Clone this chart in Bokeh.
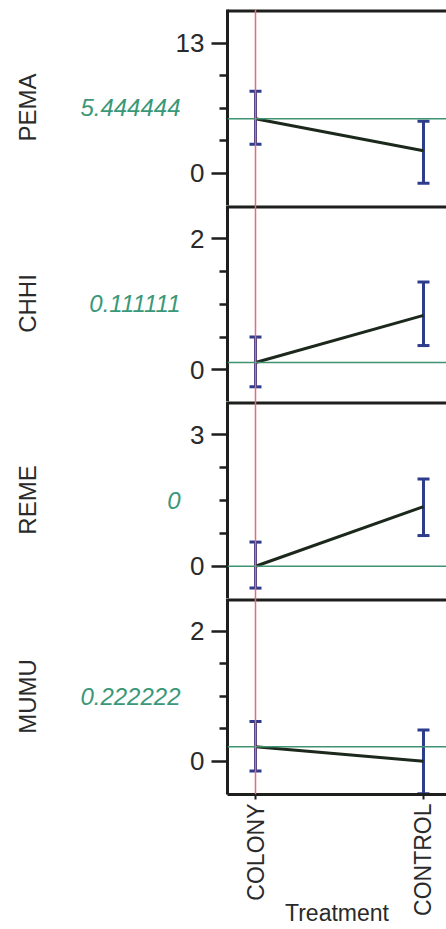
import math
from bokeh.plotting import figure
from bokeh.models import Range1d, FixedTicker, Label, Span, Whisker, TeeHead, ColumnDataSource
from bokeh.layouts import column
from bokeh.embed import file_html
from bokeh.resources import INLINE

# ---------------- data ----------------
responses = ["PEMA", "CHHI", "REME", "MUMU"]
current_labels = ["5.444444", "0.111111", "0", "0.222222"]
current_values = [5.444444, 0.111111, 0.0, 0.222222]
treatments = ["COLONY", "CONTROL"]
treatment_pos = [0, 1]
current_treatment = 0

pema_mean = [5.444444, 2.25]
pema_lower = [2.9, -1.0]
pema_upper = [8.2, 5.2]

chhi_mean = [0.111111, 0.83]
chhi_lower = [-0.26, 0.37]
chhi_upper = [0.50, 1.34]

reme_mean = [0.0, 1.36]
reme_lower = [-0.50, 0.70]
reme_upper = [0.55, 1.99]

mumu_mean = [0.222222, 0.0]
mumu_lower = [-0.15, -0.50]
mumu_upper = [0.61, 0.48]

means = [pema_mean, chhi_mean, reme_mean, mumu_mean]
lowers = [pema_lower, chhi_lower, reme_lower, mumu_lower]
uppers = [pema_upper, chhi_upper, reme_upper, mumu_upper]

y_ranges = [(-3.23, 16.37), (-0.484, 2.508), (-0.737, 3.76), (-0.512, 2.502)]
major_ticks = [[0, 13], [0, 2], [0, 3], [0, 2]]
minor_ticks = [[3.25, 6.5, 9.75], [0.5, 1.0, 1.5], [0.75, 1.5, 2.25], [0.5, 1.0, 1.5]]

x_range = (-0.1667, 1.137)

# ---------------- style ----------------
FONT = "Liberation Sans"
FRAME_COL = "#1c1f1c"
LINE_COL = "#1b281b"
ERR_COL = "#2d3c8c"
GREEN = "#3f9272"
GREEN_TXT = "#3a9878"
RED = "#f0647e"
TXT = "#2a2a2a"

frame_heights = [196, 196, 197, 196]

figs = []
for i, name in enumerate(responses):
    last = i == len(responses) - 1
    y0, y1 = y_ranges[i]
    p = figure(
        frame_width=219, frame_height=frame_heights[i],
        x_range=Range1d(*x_range), y_range=Range1d(y0, y1),
        min_border_left=227, min_border_right=0,
        min_border_top=9 if i == 0 else 0,
        min_border_bottom=125 if last else 0,
        x_axis_location="below" if last else None,
        toolbar_location=None, output_backend="svg",
        background_fill_color="white", border_fill_color="white",
    )
    p.outline_line_color = None
    p.grid.visible = False

    # y axis
    ya = p.yaxis[0]
    ya.ticker = FixedTicker(ticks=major_ticks[i], minor_ticks=minor_ticks[i])
    ya.axis_line_width = 3
    ya.axis_line_color = FRAME_COL
    ya.major_tick_out = 16
    ya.major_tick_in = 0
    ya.minor_tick_out = 8
    ya.minor_tick_in = 0
    ya.major_tick_line_width = 2.5
    ya.minor_tick_line_width = 2.5
    ya.major_tick_line_color = FRAME_COL
    ya.minor_tick_line_color = FRAME_COL
    ya.major_label_text_font = FONT
    ya.major_label_text_font_size = "26px"
    ya.major_label_text_color = TXT
    ya.major_label_standoff = 7

    if last:
        xa = p.xaxis[0]
        xa.ticker = FixedTicker(ticks=treatment_pos)
        xa.major_label_overrides = {treatment_pos[k]: treatments[k] for k in range(2)}
        xa.major_label_orientation = math.pi / 2
        xa.axis_line_width = 3
        xa.axis_line_color = FRAME_COL
        xa.major_tick_out = 5
        xa.major_tick_in = 0
        xa.major_tick_line_width = 2
        xa.major_tick_line_color = FRAME_COL
        xa.minor_tick_out = 0
        xa.minor_tick_in = 0
        xa.major_label_text_font = FONT
        xa.major_label_text_font_size = "23px"
        xa.major_label_text_color = TXT
        xa.major_label_standoff = 4
        xa.axis_label = "Treatment"
        xa.axis_label_text_font = FONT
        xa.axis_label_text_font_size = "23px"
        xa.axis_label_text_font_style = "normal"
        xa.axis_label_text_color = TXT
        xa.axis_label_standoff = -19

    # panel top border (the span is clipped to the frame, so half of it shows)
    p.add_layout(Span(location=y1, dimension="width", line_color=FRAME_COL, line_width=6))

    # reference lines
    p.add_layout(Span(location=current_values[i], dimension="width", line_color=GREEN, line_width=1.5))
    p.add_layout(Span(location=treatment_pos[current_treatment], dimension="height", line_color=RED, line_width=1.5))

    # profile line
    p.line(treatment_pos, means[i], line_color=LINE_COL, line_width=3)

    # error bars
    src = ColumnDataSource(dict(x=treatment_pos, lower=lowers[i], upper=uppers[i]))
    w = Whisker(base="x", lower="lower", upper="upper", source=src,
                line_color=ERR_COL, line_width=3,
                upper_head=TeeHead(size=12, line_color=ERR_COL, line_width=3),
                lower_head=TeeHead(size=12, line_color=ERR_COL, line_width=3))
    p.add_layout(w)

    ymid = (y0 + y1) / 2
    # response name and current value, placed in the left side panel (outside the frame)
    p.add_layout(Label(x=x_range[0], y=ymid, x_offset=-200, text=name, angle=math.pi / 2,
                       text_align="center", text_baseline="middle",
                       text_font=FONT, text_font_size="24px", text_color=TXT), "left")
    p.add_layout(Label(x=x_range[0], y=ymid, x_offset=-47, text=current_labels[i],
                       text_align="right", text_baseline="middle",
                       text_font=FONT, text_font_size="24px", text_font_style="italic",
                       text_color=GREEN_TXT), "left")
    figs.append(p)

layout = column(*figs, spacing=0)
open("out.html", "w").write(file_html(layout, INLINE))
